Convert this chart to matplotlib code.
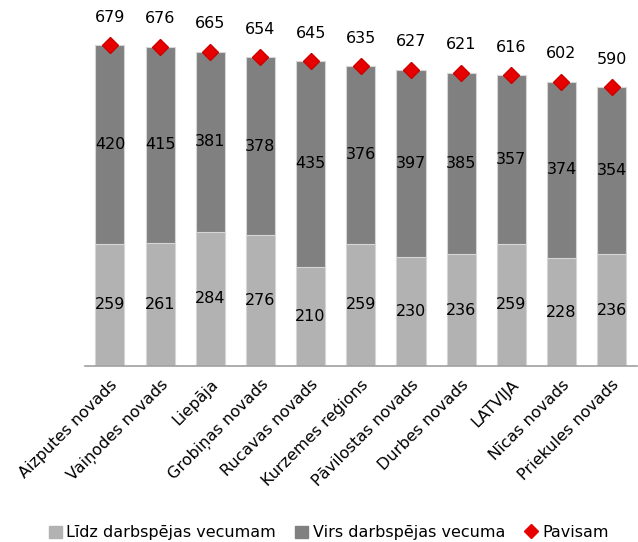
import numpy as np
import matplotlib.pyplot as plt
from matplotlib.lines import Line2D
from matplotlib.patches import Patch

regions = ['Aizputes novads', 'Vaiņodes novads', 'Liepāja', 'Grobiņas novads',
           'Rucavas novads', 'Kurzemes reģions', 'Pāvilostas novads', 'Durbes novads',
           'LATVIJA', 'Nīcas novads', 'Priekules novads']
below_age = [259, 261, 284, 276, 210, 259, 230, 236, 259, 228, 236]
above_age = [420, 415, 381, 378, 435, 376, 397, 385, 357, 374, 354]
total = [679, 676, 665, 654, 645, 635, 627, 621, 616, 602, 590]

light = '#b2b2b2'
dark = '#808080'

plt.rcParams['font.family'] = ['DejaVu Sans']
fig = plt.figure(figsize=(6.38, 5.42), dpi=100)
ax = fig.add_axes([0.133, 0.325, 0.865, 0.61])

x = np.arange(len(regions))
ax.bar(x, below_age, width=0.58, color=light, edgecolor='#d6d6d6', linewidth=0.8)
ax.bar(x, above_age, width=0.58, bottom=below_age, color=dark, edgecolor='#d6d6d6', linewidth=0.8)
ax.plot(x, total, linestyle='none', marker='D', markersize=8, color='#e60000',
        markeredgecolor='#cc0000', zorder=5, clip_on=False)

for i in range(len(regions)):
    ax.text(x[i], below_age[i] / 2, str(below_age[i]), ha='center', va='center', fontsize=11.5)
    ax.text(x[i], below_age[i] + above_age[i] / 2, str(above_age[i]), ha='center', va='center', fontsize=11.5)
    ax.annotate(str(total[i]), (x[i], total[i]), xytext=(0, 20), textcoords='offset points',
                ha='center', va='center', fontsize=11.5)

ax.set_xlim(-0.5, len(regions) - 0.5)
ax.set_ylim(0, 700)
ax.set_yticks([])
ax.set_xticks(x)
ax.set_xticklabels(regions, rotation=45, ha='right', rotation_mode='anchor', fontsize=11.5)
ax.tick_params(axis='x', length=0, pad=8)
for s in ['top', 'right', 'left']:
    ax.spines[s].set_visible(False)
ax.spines['bottom'].set_color('#a0a0a0')
ax.spines['bottom'].set_linewidth(1.2)

handles = [Patch(color=light), Patch(color=dark),
           Line2D([], [], linestyle='none', marker='D', color='#e60000', markersize=7)]
labels = ['Līdz darbspējas vecumam', 'Virs darbspējas vecuma', 'Pavisam']
fig.legend(handles, labels, loc='center', bbox_to_anchor=(0.515, 0.017), ncol=3, frameon=False,
           fontsize=11.5, handlelength=0.8, handleheight=0.8, handletextpad=0.3, columnspacing=1.2)

fig.savefig('out.png', dpi=100)
